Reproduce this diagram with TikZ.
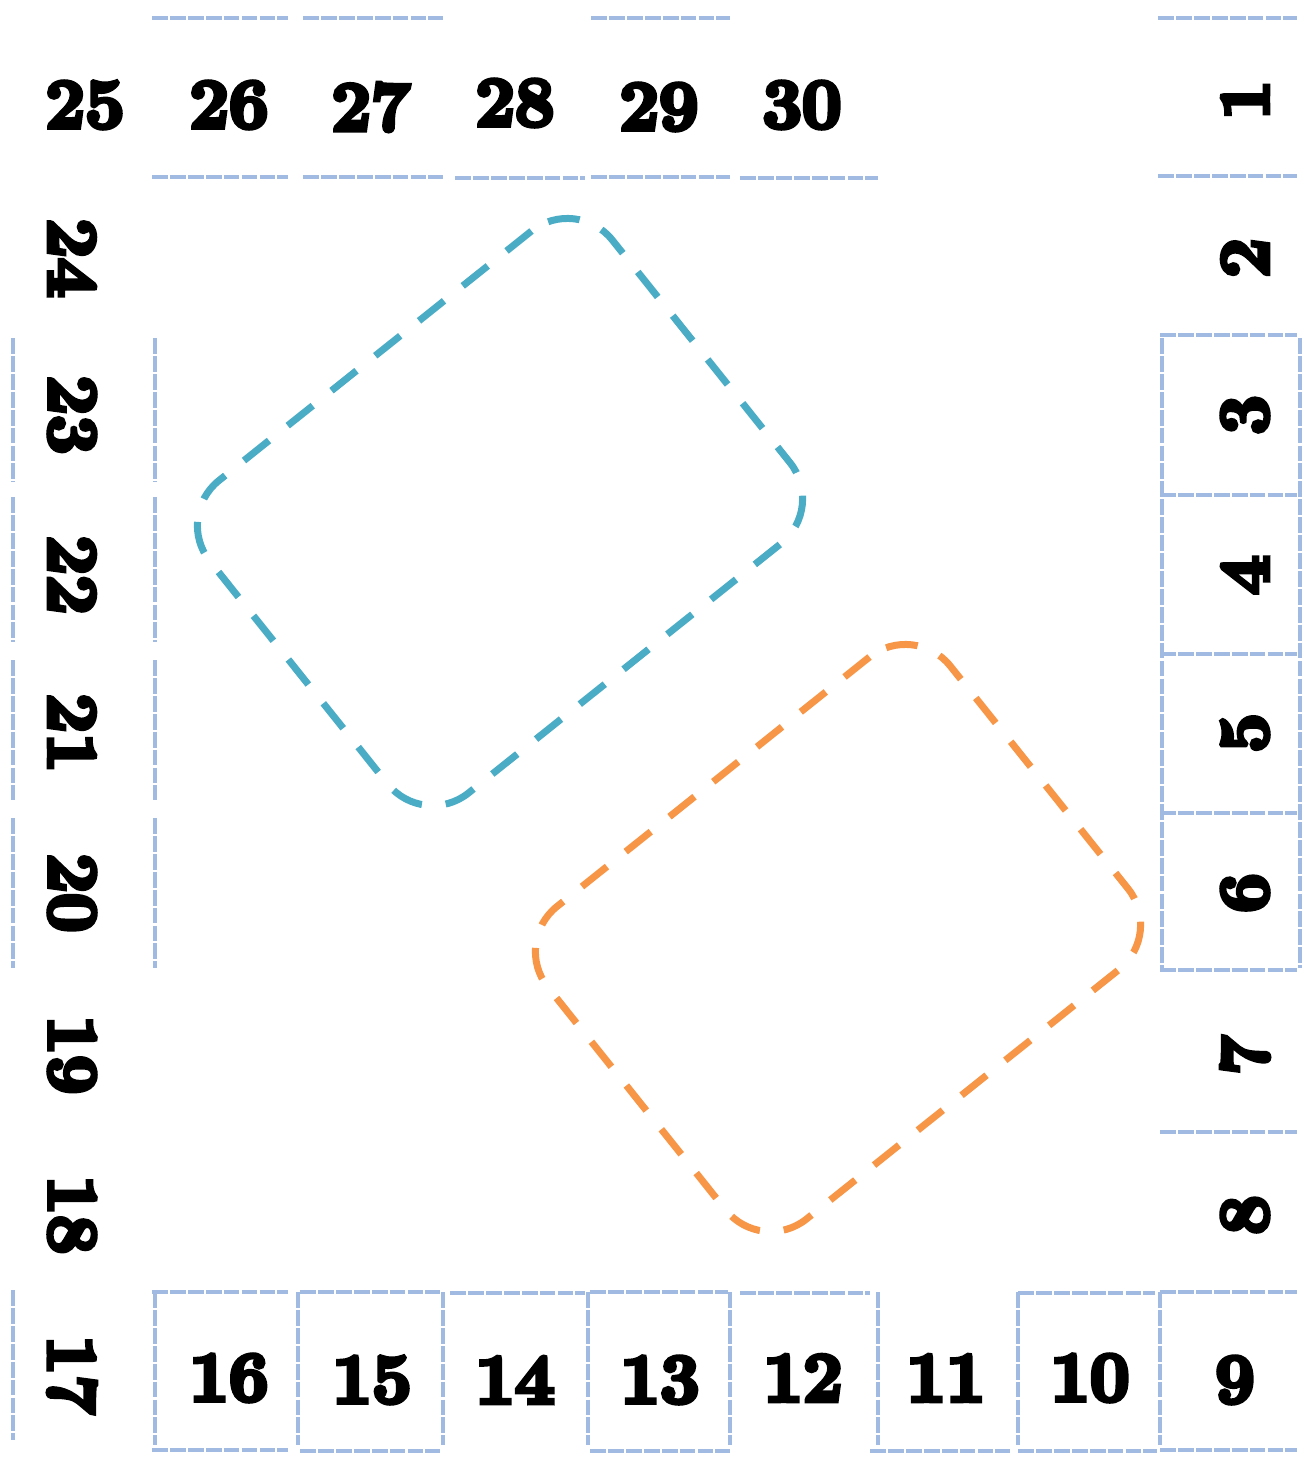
\documentclass[tikz,border=0pt]{standalone}
\usepackage{tikz}
\usetikzlibrary{shapes,positioning,calc}
\definecolor{gridblue}{RGB}{160,186,226}
\definecolor{zoneblue}{RGB}{75,172,198}
\definecolor{zoneorange}{RGB}{247,150,70}
\newcommand{\boardnum}[1]{\fontsize{40}{40}\selectfont\bfseries
  \special{pdf:literal 2 Tr 2.6 w}#1\special{pdf:literal 0 Tr}}
\tikzset{
  cellnum/.style={inner sep=0pt},
  leftnum/.style={inner sep=0pt, rotate=-90},
  rightnum/.style={inner sep=0pt, rotate=90},
  cellline/.style={draw=gridblue, line width=2.6pt, dash pattern=on 9pt off 1.2pt},
  zone/.style={draw, line width=0.14cm, dash pattern=on 0.64cm off 0.48cm,
               rounded corners=1.15cm, minimum width=10.3cm, minimum height=8cm}
}

\begin{document}
\begin{tikzpicture}[x=0.02cm, y=-0.02cm]
  \useasboundingbox (0,0) rectangle (1303,1461);

  \draw[cellline] (152,18) -- (288,18) (303,18) -- (443,18) (591,18) -- (730,18) (1158,18) -- (1297,18);
  \draw[cellline] (152,177) -- (288,177) (303,177) -- (443,177) (455,178) -- (585,178)
                  (591,177) -- (730,177) (740,178) -- (878,178) (1158,176) -- (1297,176);

  \draw[cellline] (1160,335) -- (1297,335) (1160,495) -- (1297,495) (1160,654) -- (1297,654)
                  (1160,813) -- (1297,813) (1160,970) -- (1297,970) (1160,1132) -- (1297,1132);
  \draw[cellline] (1162,338) -- (1162,968) (1300,338) -- (1300,968);

  \draw[cellline] (13,338) -- (13,482) (13,497) -- (13,642) (13,660) -- (13,800) (13,818) -- (13,968);
  \draw[cellline] (155,338) -- (155,482) (155,497) -- (155,642) (155,660) -- (155,800) (155,818) -- (155,968);
  \draw[cellline] (13,1290) -- (13,1440);

  \draw[cellline] (152,1292) -- (288,1292) (300,1292) -- (440,1292) (450,1293) -- (585,1293)
                  (590,1292) -- (728,1292) (740,1293) -- (870,1293) (1018,1293) -- (1155,1293)
                  (1160,1292) -- (1297,1292);
  \draw[cellline] (152,1450) -- (288,1450) (300,1451) -- (440,1451) (590,1451) -- (730,1451)
                  (870,1451) -- (1010,1451) (1018,1451) -- (1157,1451) (1160,1450) -- (1297,1450);
  \draw[cellline] (155,1292) -- (155,1445) (298,1292) -- (298,1445) (443,1292) -- (443,1445)
                  (588,1292) -- (588,1445) (730,1292) -- (730,1445) (878,1292) -- (878,1445)
                  (1018,1292) -- (1018,1445) (1160,1292) -- (1160,1445);

  \node[zone, draw=zoneblue, rotate=38.6] (bluezone) at (500,512) {};
  \node[zone, draw=zoneorange, rotate=38.6] (orangezone) at (838,938) {};

  \node[cellnum] (c25) at (85,105) {\boardnum{25}};
  \node[cellnum] (c26) at (229,105) {\boardnum{26}};
  \node[cellnum] (c27) at (371,107) {\boardnum{27}};
  \node[cellnum] (c28) at (515,103) {\boardnum{28}};
  \node[cellnum] (c29) at (659,107) {\boardnum{29}};
  \node[cellnum] (c30) at (802,105) {\boardnum{30}};

  \node[rightnum] (c1) at (1245,100) {\boardnum{1}};
  \node[rightnum] (c2) at (1245,258) {\boardnum{2}};
  \node[rightnum] (c3) at (1245,415) {\boardnum{3}};
  \node[rightnum] (c4) at (1245,575) {\boardnum{4}};
  \node[rightnum] (c5) at (1245,733) {\boardnum{5}};
  \node[rightnum] (c6) at (1245,893) {\boardnum{6}};
  \node[rightnum] (c7) at (1245,1055) {\boardnum{7}};
  \node[rightnum] (c8) at (1245,1215) {\boardnum{8}};

  \node[cellnum] (c9) at (1235,1380) {\boardnum{9}};
  \node[cellnum] (c10) at (1090,1378) {\boardnum{10}};
  \node[cellnum] (c11) at (946,1378) {\boardnum{11}};
  \node[cellnum] (c12) at (803,1378) {\boardnum{12}};
  \node[cellnum] (c13) at (660,1380) {\boardnum{13}};
  \node[cellnum] (c14) at (515,1380) {\boardnum{14}};
  \node[cellnum] (c15) at (372,1380) {\boardnum{15}};
  \node[cellnum] (c16) at (229,1378) {\boardnum{16}};

  \node[leftnum] (c17) at (72,1375) {\boardnum{17}};
  \node[leftnum] (c18) at (72,1215) {\boardnum{18}};
  \node[leftnum] (c19) at (72,1055) {\boardnum{19}};
  \node[leftnum] (c20) at (72,893) {\boardnum{20}};
  \node[leftnum] (c21) at (72,733) {\boardnum{21}};
  \node[leftnum] (c22) at (72,575) {\boardnum{22}};
  \node[leftnum] (c23) at (72,415) {\boardnum{23}};
  \node[leftnum] (c24) at (72,258) {\boardnum{24}};
\end{tikzpicture}
\end{document}
